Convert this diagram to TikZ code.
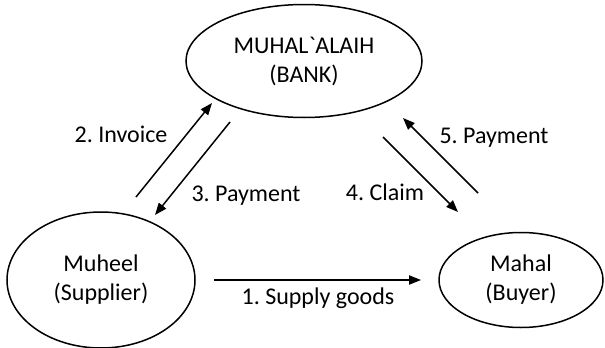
\documentclass[tikz,border=0pt]{standalone}
\usepackage{fontspec}
\setmainfont{Carlito}
\frenchspacing
\usetikzlibrary{shapes.geometric,arrows.meta}
% grave accent glyph, set directly so the TeX ligature mapping leaves it alone
\newcommand{\gravemark}{\XeTeXglyph\XeTeXcharglyph"60\relax}
\tikzset{
  party/.style={draw, ellipse, line width=0.75pt, inner sep=0pt, align=center,
    font=\fontsize{12}{14.5}\selectfont},
  flow/.style={line width=0.75pt, -{Triangle[length=6pt,width=4.6pt]}},
  flowlabel/.style={anchor=base, inner sep=0pt, font=\fontsize{12}{14.5}\selectfont}
}
\begin{document}
\begin{tikzpicture}[x=0.5pt,y=-0.5pt]
  \useasboundingbox (0,0) rectangle (605,348);

  % the three parties
  \node[party, minimum width=118pt, minimum height=56.5pt] (bank) at (304,61) {MUHAL\gravemark ALAIH\\(BANK)};
  \node[party, minimum width=94pt, minimum height=68pt] (supplier) at (101,280) {Muheel\\(Supplier)};
  \node[party, minimum width=82pt, minimum height=47.5pt] (buyer) at (521,280) {Mahal\\(Buyer)};

  % end points of the flows
  \coordinate (s1) at (214,280);  \coordinate (e1) at (421,280);
  \coordinate (s2) at (136,197);  \coordinate (e2) at (212,103);
  \coordinate (s3) at (230,122);  \coordinate (e3) at (155,215);
  \coordinate (s4) at (383,137);  \coordinate (e4) at (458,212);
  \coordinate (s5) at (478,193);  \coordinate (e5) at (403,118);

  \draw[flow] (s1) -- (e1);
  \draw[flow] (s2) -- (e2);
  \draw[flow] (s3) -- (e3);
  \draw[flow] (s4) -- (e4);
  \draw[flow] (s5) -- (e5);

  % flow labels
  \node[flowlabel] (l1) at (318,304) {1. Supply goods};
  \node[flowlabel] (l2) at (121,142) {2. Invoice};
  \node[flowlabel] (l3) at (246,201) {3. Payment};
  \node[flowlabel] (l4) at (385,200) {4. Claim};
  \node[flowlabel] (l5) at (494,143) {5. Payment};
\end{tikzpicture}
\end{document}
